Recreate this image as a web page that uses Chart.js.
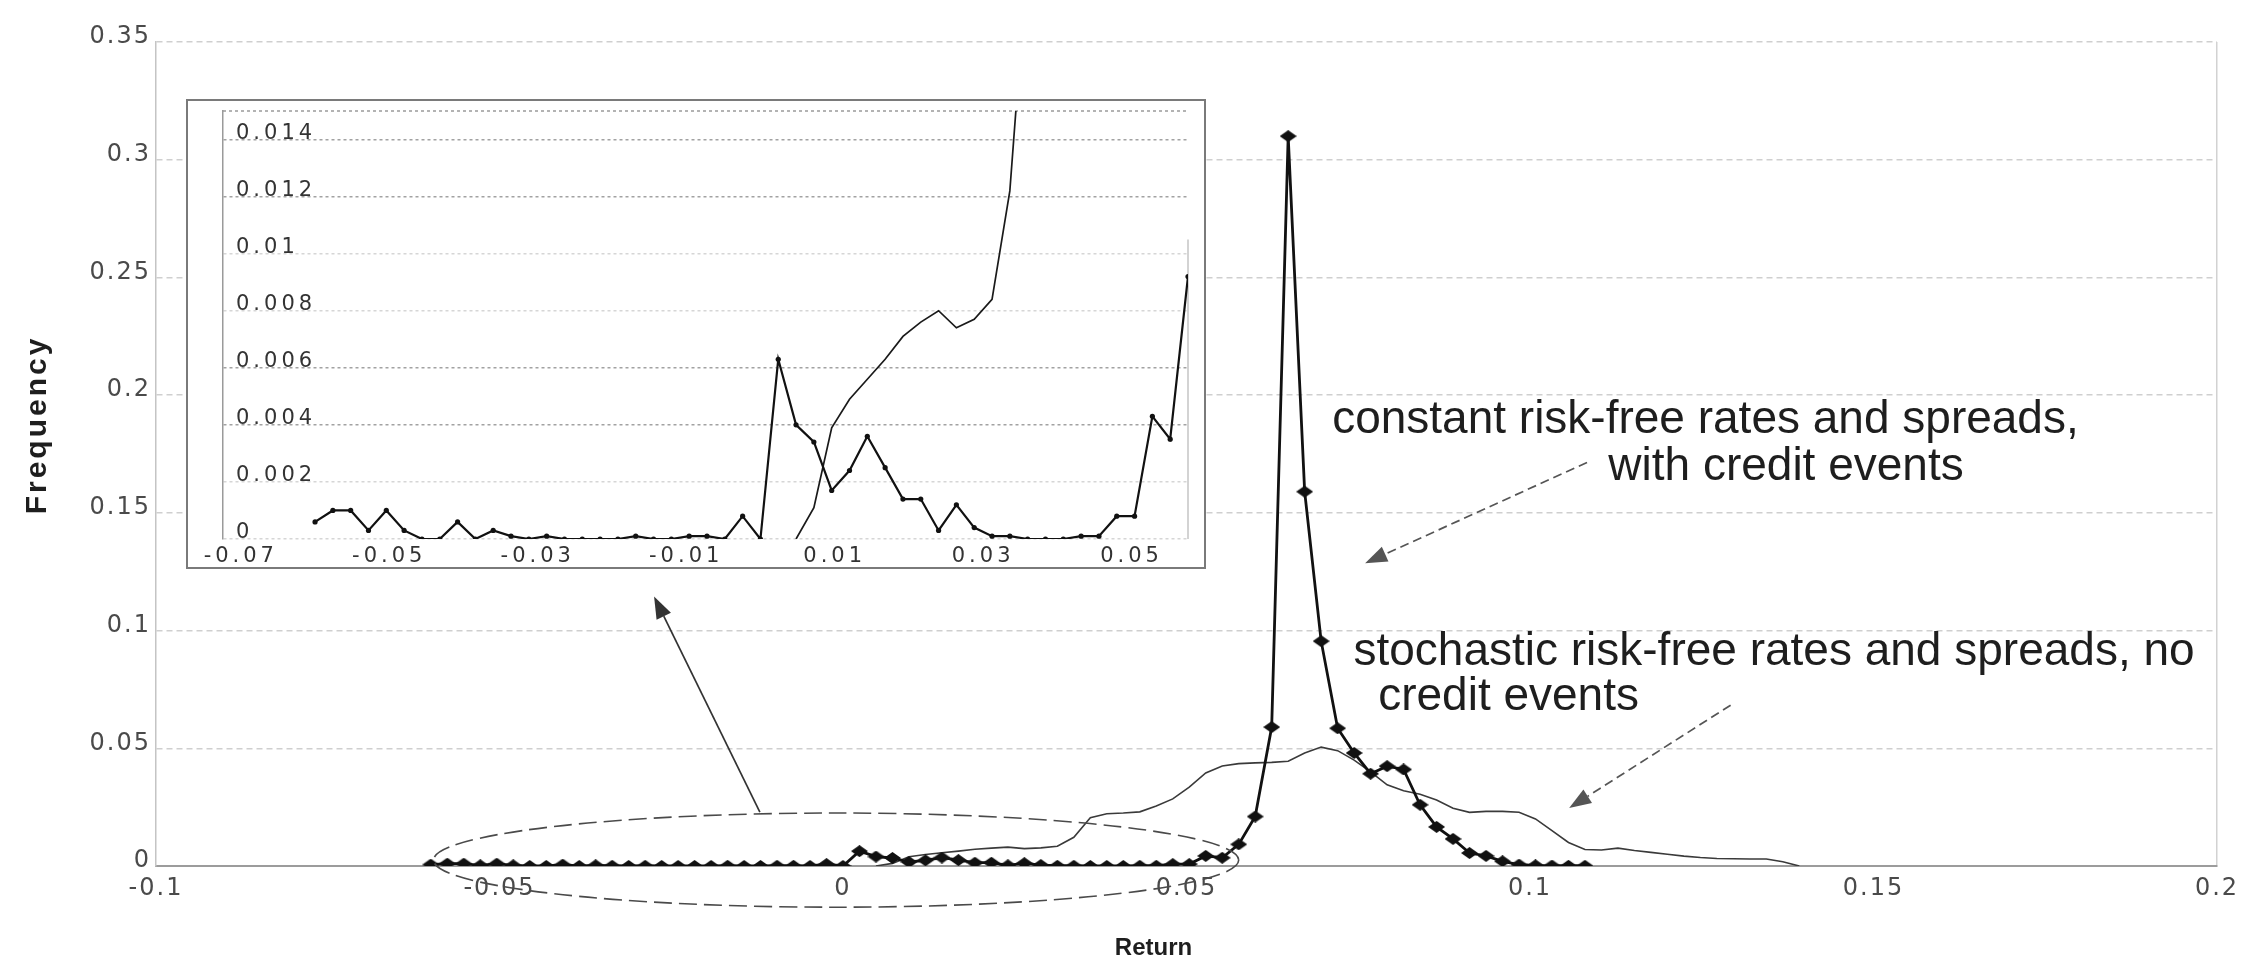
<!DOCTYPE html>
<html>
<head>
<meta charset="utf-8">
<title>Return distribution</title>
<script src="https://cdn.jsdelivr.net/npm/chart.js@4.4.1/dist/chart.umd.min.js"></script>
<style>
  html, body { margin: 0; padding: 0; background: #fff; }
  #wrap { position: relative; width: 2257px; height: 960px; overflow: hidden; background: #fff; }
  #main { position: absolute; left: 0; top: 0; }
  #insetBox { position: absolute; left: 186px; top: 99px; width: 1016px; height: 466px;
              border: 2px solid #7a7a7a; background: #fff; }
  #inset { position: absolute; left: 0; top: 0; }
</style>
</head>
<body>
<div id="wrap">
  <canvas id="main" width="2257" height="960"></canvas>
  <div id="insetBox"><canvas id="inset" width="1016" height="466"></canvas></div>
</div>
<script>
// Return bins (bin centres)
const returns = [
  -0.0600, -0.0576, -0.0552, -0.0528, -0.0504, -0.0480, -0.0456, -0.0432, -0.0408, -0.0384,
  -0.0360, -0.0336, -0.0312, -0.0288, -0.0264, -0.0240, -0.0216, -0.0192, -0.0168, -0.0144,
  -0.0120, -0.0096, -0.0072, -0.0048, -0.0024,  0.0000,  0.0024,  0.0048,  0.0072,  0.0096,
   0.0120,  0.0144,  0.0168,  0.0192,  0.0216,  0.0240,  0.0264,  0.0288,  0.0312,  0.0336,
   0.0360,  0.0384,  0.0408,  0.0432,  0.0456,  0.0480,  0.0504,  0.0528,  0.0552,  0.0576,
   0.0600,  0.0624,  0.0648,  0.0672,  0.0696,  0.0720,  0.0744,  0.0768,  0.0792,  0.0816,
   0.0840,  0.0864,  0.0888,  0.0912,  0.0936,  0.0960,  0.0984,  0.1008,  0.1032,  0.1056,
   0.1080,  0.1104,  0.1128,  0.1152,  0.1176,  0.1200,  0.1224,  0.1248,  0.1272,  0.1296,
   0.1320,  0.1344,  0.1368,  0.1392
];

// Frequency: constant risk-free rates and spreads, with credit events
const constantFreq = [
  0.0006, 0.0010, 0.0010, 0.0003, 0.0010, 0.0003, 0.0000, 0.0000, 0.0006, 0.0000,
  0.0003, 0.0001, 0.0000, 0.0001, 0.0000, 0.0000, 0.0000, 0.0000, 0.0001, 0.0000,
  0.0000, 0.0001, 0.0001, 0.0000, 0.0008, 0.0000, 0.0063, 0.0040, 0.0034, 0.0017,
  0.0024, 0.0036, 0.0025, 0.0014, 0.0014, 0.0003, 0.0012, 0.0004, 0.0001, 0.0001,
  0.0000, 0.0000, 0.0000, 0.0001, 0.0001, 0.0008, 0.0008, 0.0043, 0.0035, 0.0092,
  0.0210, 0.0590, 0.3100, 0.1590, 0.0955, 0.0585, 0.0480, 0.0392, 0.0424, 0.0410,
  0.0260, 0.0166, 0.0115, 0.0055, 0.0043, 0.0020, 0.0006, 0.0003, 0.0002, 0.0001,
  0.0001
];

// Frequency: stochastic risk-free rates and spreads, no credit events
const stochasticFreq = [
  null, null, null, null, null, null, null, null, null, null,
  null, null, null, null, null, null, null, null, null, null,
  null, null, null, null, null, null, null, 0.0000, 0.0011, 0.0039,
  0.0049, 0.0056, 0.0063, 0.0071, 0.0076, 0.0080, 0.0074, 0.0077, 0.0084, 0.0122,
  0.0205, 0.0222, 0.0225, 0.0230, 0.0255, 0.0285, 0.0335, 0.0395, 0.0425, 0.0435,
  0.0438, 0.0440, 0.0445, 0.0480, 0.0505, 0.0490, 0.0450, 0.0400, 0.0345, 0.0320,
  0.0305, 0.0280, 0.0245, 0.0228, 0.0232, 0.0232, 0.0228, 0.0200, 0.0150, 0.0100,
  0.0070, 0.0068, 0.0076, 0.0066, 0.0058, 0.0050, 0.0042, 0.0036, 0.0032, 0.0031,
  0.0030, 0.0030, 0.0018, 0.0000
];

// Tick labels
const mainXTicks = [-0.1, -0.05, 0, 0.05, 0.1, 0.15, 0.2];
const mainYTicks = [0, 0.05, 0.1, 0.15, 0.2, 0.25, 0.3, 0.35];
const insetXTicks = [-0.07, -0.05, -0.03, -0.01, 0.01, 0.03, 0.05];
const insetYTicks = [0, 0.002, 0.004, 0.006, 0.008, 0.01, 0.012, 0.014];

const SANS = "'Liberation Sans', Arial, Helvetica, sans-serif";
const WIDE = "'DejaVu Sans', Verdana, sans-serif";

function toPoints(series) {
  const pts = [];
  series.forEach((v, i) => { if (v !== null && v !== undefined) pts.push({ x: returns[i], y: v }); });
  return pts;
}
const fixedTicks = arr => scale => { scale.ticks = arr.map(v => ({ value: v })); };

// Letter spacing for tick labels / titles and a small nudge of the axis title
function tuneScale(o) {
  return s => {
    if (s.__tuned) return;
    s.__tuned = true;
    const drawLabels = s.drawLabels, drawTitle = s.drawTitle;
    s.drawLabels = function (area) {
      const c = this.ctx;
      c.letterSpacing = (o.tickSpacing || 0) + 'px';
      drawLabels.call(this, area);
      c.letterSpacing = '0px';
    };
    s.drawTitle = function () {
      const c = this.ctx, box = [this.left, this.right, this.top, this.bottom];
      this.left += o.dx || 0; this.right += o.dx || 0;
      this.top += o.dy || 0; this.bottom += o.dy || 0;
      c.letterSpacing = (o.titleSpacing || 0) + 'px';
      drawTitle.call(this);
      c.letterSpacing = '0px';
      [this.left, this.right, this.top, this.bottom] = box;
    };
  };
}

// Flattened diamond marker
const diamond = (() => {
  const c = document.createElement('canvas');
  c.width = 17; c.height = 12;
  const g = c.getContext('2d');
  g.fillStyle = '#111';
  g.beginPath(); g.moveTo(8.5, 0); g.lineTo(17, 6); g.lineTo(8.5, 12); g.lineTo(0, 6); g.closePath(); g.fill();
  return c;
})();

function arrow(ctx, x1, y1, x2, y2, dash, color) {
  ctx.save();
  ctx.strokeStyle = color; ctx.fillStyle = color; ctx.lineWidth = 1.7;
  const ang = Math.atan2(y2 - y1, x2 - x1), L = 22, W = 8;
  const bx = x2 - L * Math.cos(ang), by = y2 - L * Math.sin(ang);
  ctx.setLineDash(dash);
  ctx.beginPath(); ctx.moveTo(x1, y1); ctx.lineTo(bx, by); ctx.stroke();
  ctx.setLineDash([]);
  ctx.beginPath();
  ctx.moveTo(x2, y2);
  ctx.lineTo(bx + W * Math.sin(ang), by - W * Math.cos(ang));
  ctx.lineTo(bx - W * Math.sin(ang), by + W * Math.cos(ang));
  ctx.closePath(); ctx.fill();
  ctx.restore();
}

// Ellipse around the left tail, arrows and series notes
const notes = {
  id: 'notes',
  afterDraw(chart) {
    const { ctx, scales: { x, y } } = chart;
    const px = v => x.getPixelForValue(v), py = v => y.getPixelForValue(v);
    ctx.save();
    ctx.letterSpacing = '0px';

    ctx.beginPath();
    ctx.ellipse(px(-0.001), py(0.0025), px(0.0576) - px(-0.001), py(0) - py(0.02), 0, 0, Math.PI * 2);
    ctx.strokeStyle = '#4a4a4a'; ctx.lineWidth = 1.6; ctx.setLineDash([18, 7]); ctx.stroke();
    ctx.setLineDash([]);

    arrow(ctx, px(-0.0121), py(0.0229), px(-0.0275), py(0.1145), [], '#333');
    arrow(ctx, px(0.1083), py(0.1714), px(0.0760), py(0.1286), [9, 5], '#555');
    arrow(ctx, px(0.1292), py(0.0683), px(0.1057), py(0.0246), [9, 5], '#555');

    ctx.fillStyle = '#1e1e1e';
    ctx.font = '46px ' + SANS;
    ctx.textAlign = 'left'; ctx.textBaseline = 'alphabetic';
    ctx.fillText('constant risk-free rates and spreads,', px(0.0712), py(0.1841));
    ctx.fillText('with credit events', px(0.1114), py(0.1638));
    ctx.fillText('stochastic risk-free rates and spreads, no', px(0.0743), py(0.0853));
    ctx.fillText('credit events', px(0.0779), py(0.0662));
    ctx.restore();
  }
};

// Frame of the inset plot area
const insetFrame = {
  id: 'insetFrame',
  beforeDatasetsDraw(chart) {
    const { ctx, chartArea: a, scales: { y } } = chart;
    ctx.save();
    ctx.strokeStyle = '#9a9a9a'; ctx.lineWidth = 1.5; ctx.setLineDash([3, 3]);
    ctx.beginPath(); ctx.moveTo(a.left, a.top); ctx.lineTo(a.right, a.top); ctx.stroke();
    ctx.setLineDash([]);
    ctx.strokeStyle = '#c4c4c4';
    ctx.beginPath(); ctx.moveTo(a.right, y.getPixelForValue(0.0105)); ctx.lineTo(a.right, a.bottom); ctx.stroke();
    ctx.restore();
  }
};

new Chart(document.getElementById('main'), {
  type: 'line',
  data: {
    datasets: [
      {
        label: 'constant risk-free rates and spreads, with credit events',
        data: toPoints(constantFreq),
        borderColor: '#111', backgroundColor: '#111', borderWidth: 2.8,
        pointStyle: diamond, pointRadius: 7,
        tension: 0, order: 1
      },
      {
        label: 'stochastic risk-free rates and spreads, no credit events',
        data: toPoints(stochasticFreq),
        borderColor: '#3a3a3a', borderWidth: 1.6, pointRadius: 0,
        tension: 0, order: 2
      }
    ]
  },
  options: {
    responsive: false, animation: false, devicePixelRatio: 1,
    layout: { padding: { left: 0, top: 42, right: 40, bottom: 0 } },
    plugins: { legend: { display: false }, tooltip: { enabled: false } },
    scales: {
      x: {
        type: 'linear', min: -0.1, max: 0.2,
        afterBuildTicks: fixedTicks(mainXTicks),
        afterFit: s => { s.height = 94; },
        afterUpdate: tuneScale({ tickSpacing: 2, dx: -33 }),
        grid: {
          drawTicks: false, lineWidth: 1.5,
          color: c => (c.tick && c.tick.value === 0.2) ? '#d2d2d2' : 'rgba(0,0,0,0)'
        },
        border: { display: true, color: '#9c9c9c', width: 2 },
        ticks: { padding: 8, color: '#4a4a4a', font: { family: WIDE, size: 24 }, maxRotation: 0,
                 callback: v => String(v) },
        title: { display: true, text: 'Return', color: '#1e1e1e', padding: { top: 0, bottom: 0 },
                 font: { family: SANS, size: 24, weight: 'bold', lineHeight: 1 } }
      },
      y: {
        type: 'linear', min: 0, max: 0.35,
        afterBuildTicks: fixedTicks(mainYTicks),
        afterFit: s => { s.width = 156; },
        afterUpdate: tuneScale({ tickSpacing: 2, titleSpacing: 3, dy: -29 }),
        grid: { drawTicks: false, color: '#cfcfcf', lineWidth: 1.5 },
        border: { display: true, color: '#c4c4c4', width: 1.5, dash: [6, 4] },
        ticks: { padding: 5, labelOffset: -5, color: '#4a4a4a', font: { family: WIDE, size: 24 },
                 callback: v => String(v) },
        title: { display: true, text: 'Frequency', color: '#1e1e1e', padding: { top: 23, bottom: 0 },
                 font: { family: SANS, size: 30, weight: 'bold', lineHeight: 1 } }
      }
    }
  },
  plugins: [notes]
});

new Chart(document.getElementById('inset'), {
  type: 'line',
  data: {
    datasets: [
      {
        label: 'constant risk-free rates and spreads, with credit events',
        data: toPoints(constantFreq),
        borderColor: '#111', backgroundColor: '#111', borderWidth: 2.2,
        pointStyle: 'circle', pointRadius: 2.6, pointBorderWidth: 0, tension: 0
      },
      {
        label: 'stochastic risk-free rates and spreads, no credit events',
        data: toPoints(stochasticFreq),
        borderColor: '#1a1a1a', borderWidth: 1.7, pointRadius: 0, tension: 0
      }
    ]
  },
  options: {
    responsive: false, animation: false, devicePixelRatio: 1,
    layout: { padding: { left: 0, top: 10, right: 16, bottom: 0 } },
    plugins: { legend: { display: false }, tooltip: { enabled: false } },
    scales: {
      x: {
        type: 'linear', min: -0.0724, max: 0.0576,
        afterBuildTicks: fixedTicks(insetXTicks),
        afterFit: s => { s.height = 28; s.paddingLeft = 0; s.paddingRight = 0; },
        afterUpdate: tuneScale({ tickSpacing: 4 }),
        grid: { display: false },
        border: { display: false },
        ticks: { padding: -1, color: '#333', maxRotation: 0,
                 font: { family: WIDE, size: 21, lineHeight: 1 }, callback: v => String(v) }
      },
      y: {
        type: 'linear', min: 0, max: 0.015,
        afterBuildTicks: fixedTicks(insetYTicks),
        afterFit: s => { s.width = 35; s.paddingTop = 0; s.paddingBottom = 0; },
        afterUpdate: tuneScale({ tickSpacing: 4 }),
        grid: {
          drawTicks: false, lineWidth: 1.5,
          color: c => [0.004, 0.006, 0.012, 0.014].includes(c.tick && c.tick.value) ? '#a2a2a2' : '#d6d6d6'
        },
        border: { display: true, color: '#9a9a9a', width: 1.5, dash: [3, 3] },
        ticks: { mirror: true, padding: 13, labelOffset: -6, color: '#333',
                 font: { family: WIDE, size: 21 }, callback: v => String(v) }
      }
    }
  },
  plugins: [insetFrame]
});
</script>
</body>
</html>
